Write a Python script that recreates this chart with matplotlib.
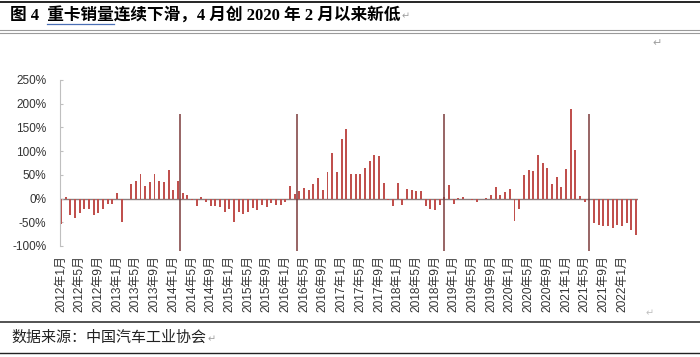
import numpy as np
import matplotlib
matplotlib.use("Agg")
import matplotlib.pyplot as plt
from matplotlib.lines import Line2D

# ---- data: heavy truck sales yoy (%), monthly 2012-01 .. 2022-04 ----------
years = list(range(2012, 2023))
months = [f"{y}年{m}月" for y in years for m in range(1, 13)][:124]

yoy = [
    -54, 4, -34, -42, -31, -22, -23, -34, -30, -23, -12, -12,      # 2012
    12, -50, np.nan, 30, 38, 51, 26, 35, 51, 38, 35, 61,           # 2013
    19, 38, 12, 7, -2, -15, 4, -8, -15, -15, -18, -29,             # 2014
    -22, -50, -29, -32, -29, -20, -25, -13, -17, -10, -13, -13,    # 2015
    -8, 26, 10, 16, 23, 18, 31, 44, 18, 55, 97, 55,                # 2016
    125, 147, 52, 51, 51, 64, 80, 91, 89, 32, -4, -16,             # 2017
    32, -13, 20, 18, 17, 15, -16, -23, -25, -13, 4, 29,            # 2018
    -11, 2, 4, 0, -2, -8, 0, 2, 8, 25, 8, 14,                      # 2019
    20, -48, -22, 49, 61, 59, 91, 75, 65, 30, 45, 24,              # 2020
    63, 188, 103, 6, -7, np.nan, -52, -56, -57, -58, -61, -55,     # 2021
    -58, -52, -66, -76,                                            # 2022
]

# dark vertical spikes that cut through the chart (month index, top, bottom)
spike_idx = [25.5, 50.5, 82, 113]
spike_top = 178
spike_bottom = -110

yticks = [-100, -50, 0, 50, 100, 150, 200, 250]
tick_every = 4

BAR = "#C0504D"
SPIKE = "#7A3A3A"
CJK = ["Liberation Sans", "Noto Sans CJK SC"]

fig = plt.figure(figsize=(7.0, 3.57), dpi=100)
W, H = 700, 357

x = np.arange(len(yoy))
ax = fig.add_axes([59.6 / W, 1 - 246 / H, 578.8 / W, 166 / H])
ax.bar(x, yoy, width=0.42, color=BAR, zorder=2)
ax.vlines(spike_idx, spike_bottom, spike_top, color=SPIKE, lw=1.1,
          zorder=3, clip_on=False)
ax.axhline(0, color="#8C7C7C", lw=1.0, zorder=1)

ax.set_xlim(-0.3, 123.5)
ax.set_ylim(-100, 250)
ax.set_yticks(yticks)
ax.set_yticklabels([f"{v}%" for v in yticks], family="Liberation Sans",
                   fontsize=8.5, color="#333333")
ax.set_xticks(x[::tick_every])
ax.set_xticklabels(months[::tick_every], rotation=90, family=CJK,
                   fontsize=8.6, color="#333333", va="top")
ax.tick_params(axis="x", length=0, pad=6.5)
ax.tick_params(axis="y", direction="in", length=2.5, color="#BFBFBF", pad=9.5)

for side in ["top", "right", "bottom"]:
    ax.spines[side].set_visible(False)
ax.spines["left"].set_color("#BFBFBF")
ax.spines["left"].set_linewidth(0.8)

# ---- document furniture ---------------------------------------------------
def fx(px):
    return px / W


def fy(py):
    return 1 - py / H


fig.add_artist(Line2D([0, 1], [fy(2), fy(2)], color="black", lw=1.2))
fig.add_artist(Line2D([0, 1], [fy(30), fy(30)], color="#9A9A9A", lw=0.8))
fig.add_artist(Line2D([0, 1], [fy(32.5), fy(32.5)], color="#9A9A9A", lw=0.8))
fig.add_artist(Line2D([0, 1], [fy(322), fy(322)], color="#444444", lw=1.3))
fig.add_artist(Line2D([0, 1], [fy(353), fy(353)], color="#222222", lw=1.0))

title_font = dict(family=["Liberation Serif", "Noto Sans CJK SC"],
                  fontsize=12, weight="bold", color="black", va="center")
title = "图 4  重卡销量连续下滑，4 月创 2020 年 2 月以来新低"
t = fig.text(fx(10), fy(15), title, **title_font)

fig.canvas.draw()
r = fig.canvas.get_renderer()
pre = fig.text(fx(10), fy(15), "图 4  ", alpha=0, **title_font)
mid = fig.text(fx(10), fy(15), "图 4  重卡销量", alpha=0, **title_font)
x0 = pre.get_window_extent(r).x1 / W
x1 = mid.get_window_extent(r).x1 / W
fig.add_artist(Line2D([x0, x1], [fy(24), fy(24)], color="#4A6FB5", lw=0.9))
tx1 = t.get_window_extent(r).x1 / W

fig.text(tx1 + 0.002, fy(16), "↵", family="DejaVu Sans", fontsize=7,
         color="#A0A0A0", va="center")
fig.text(fx(652), fy(43), "↵", family="DejaVu Sans", fontsize=8,
         color="#A0A0A0", va="center")
fig.text(fx(646), fy(313), "↵", family="DejaVu Sans", fontsize=7,
         color="#C0C0C0", va="center")

src = fig.text(fx(11), fy(338), "数据来源：中国汽车工业协会",
               family="Noto Sans CJK SC", fontsize=10.8, color="#222222",
               va="center")
fig.canvas.draw()
sx1 = src.get_window_extent(r).x1 / W
fig.text(sx1 + 0.002, fy(339), "↵", family="DejaVu Sans", fontsize=7,
         color="#A0A0A0", va="center")

fig.savefig("out.png", dpi=100)
